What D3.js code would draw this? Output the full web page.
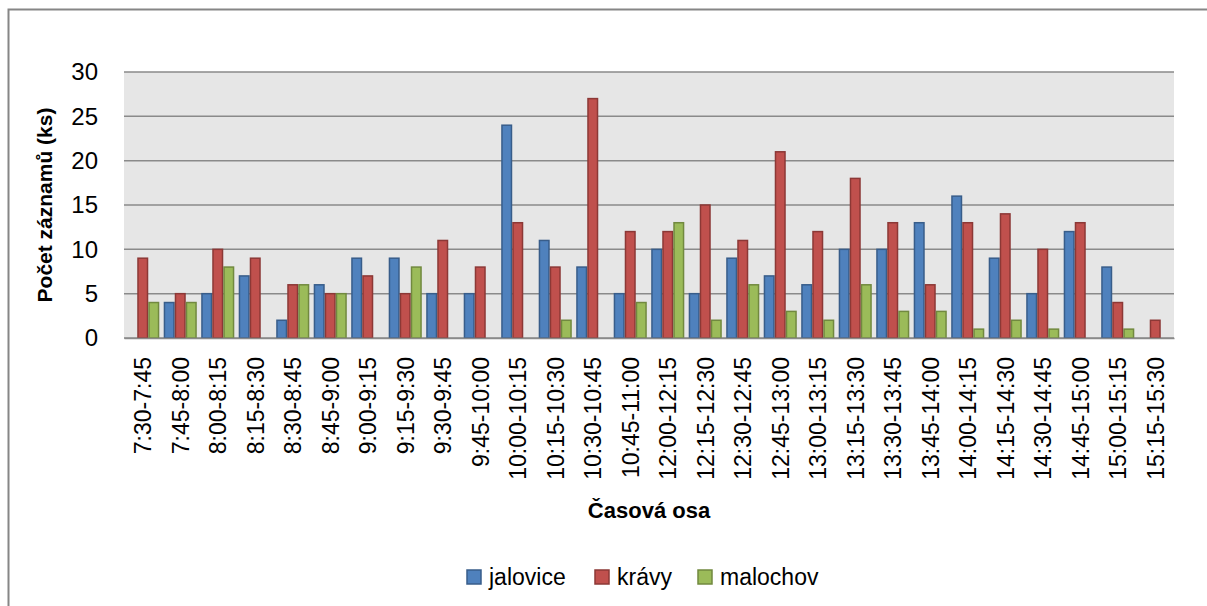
<!DOCTYPE html>
<html>
<head>
<meta charset="utf-8">
<script src="https://cdn.jsdelivr.net/npm/d3@7"></script>
<style>
  html, body { margin: 0; padding: 0; background: #fff; }
  svg { display: block; font-family: "Liberation Sans", Arial, sans-serif; }
</style>
</head>
<body>
<svg id="chart" width="1207" height="606"></svg>
<script>
// Time slots (15-minute intervals)
const categories = [
  "7:30-7:45", "7:45-8:00", "8:00-8:15", "8:15-8:30", "8:30-8:45", "8:45-9:00",
  "9:00-9:15", "9:15-9:30", "9:30-9:45", "9:45-10:00", "10:00-10:15", "10:15-10:30",
  "10:30-10:45", "10:45-11:00", "12:00-12:15", "12:15-12:30", "12:30-12:45", "12:45-13:00",
  "13:00-13:15", "13:15-13:30", "13:30-13:45", "13:45-14:00", "14:00-14:15", "14:15-14:30",
  "14:30-14:45", "14:45-15:00", "15:00-15:15", "15:15-15:30"
];

// Record counts per group
const jalovice = [0, 4, 5, 7, 2, 6, 9, 9, 5, 5, 24, 11, 8, 5, 10, 5, 9, 7, 6, 10, 10, 13, 16, 9, 5, 12, 8, 0];
const kravy    = [9, 5, 10, 9, 6, 5, 7, 5, 11, 8, 13, 8, 27, 12, 12, 15, 11, 21, 12, 18, 13, 6, 13, 14, 10, 13, 4, 2];
const malochov = [4, 4, 8, 0, 6, 5, 0, 8, 0, 0, 0, 2, 0, 4, 13, 2, 6, 3, 2, 6, 3, 3, 1, 2, 1, 0, 1, 0];

const seriesNames = ["jalovice", "krávy", "malochov"];
const yTicks = [0, 5, 10, 15, 20, 25, 30];

const series = [
  { name: seriesNames[0], values: jalovice, fill: "#4f81bd", stroke: "#385d8a" },
  { name: seriesNames[1], values: kravy,    fill: "#c0504d", stroke: "#8c3836" },
  { name: seriesNames[2], values: malochov, fill: "#9bbb59", stroke: "#71893f" }
];

const svg = d3.select("#chart");
const plot = { left: 124, right: 1174, top: 72, bottom: 338 };

// Chart frame
svg.append("rect")
  .attr("x", 8.5).attr("y", 9.5)
  .attr("width", 1300).attr("height", 700)
  .attr("fill", "#fff").attr("stroke", "#868686").attr("stroke-width", 2);

const x = d3.scaleBand().domain(categories).range([plot.left, plot.right]).paddingInner(0).paddingOuter(0);
const xInner = d3.scaleBand().domain(seriesNames).range([0, x.bandwidth()]).paddingOuter(0.2).paddingInner(0);
const y = d3.scaleLinear().domain([0, 30]).range([plot.bottom, plot.top]);

// Plot area background
svg.append("rect")
  .attr("x", plot.left).attr("y", plot.top)
  .attr("width", plot.right - plot.left).attr("height", plot.bottom - plot.top)
  .attr("fill", "#e6e6e6");

// Horizontal gridlines
svg.append("g")
  .selectAll("line")
  .data(yTicks)
  .join("line")
  .attr("x1", plot.left).attr("x2", plot.right)
  .attr("y1", d => y(d)).attr("y2", d => y(d))
  .attr("stroke", "#8a8a8a").attr("stroke-width", 1.5);

// Y axis labels
const yAxis = svg.append("g")
  .attr("transform", `translate(${plot.left},0)`)
  .call(d3.axisLeft(y).tickValues(yTicks).tickSize(0).tickPadding(26));
yAxis.select(".domain").remove();
yAxis.selectAll("text")
  .attr("font-size", 24)
  .attr("font-family", "Liberation Sans, Arial, sans-serif")
  .attr("fill", "#000");

// Bars
const groups = svg.append("g")
  .selectAll("g")
  .data(series)
  .join("g");

groups.selectAll("rect")
  .data(s => s.values.map((v, i) => ({ v, cat: categories[i], s })))
  .join("rect")
  .filter(d => d.v > 0)
  .attr("x", d => x(d.cat) + xInner(d.s.name) + 0.75)
  .attr("width", xInner.bandwidth() - 1.5)
  .attr("y", d => y(d.v))
  .attr("height", d => y(0) - y(d.v))
  .attr("fill", d => d.s.fill)
  .attr("stroke", d => d.s.stroke)
  .attr("stroke-width", 1.5);

// X axis
const xAxis = svg.append("g")
  .attr("transform", `translate(0,${plot.bottom})`)
  .call(d3.axisBottom(x).tickSize(0).tickPadding(0));
xAxis.select(".domain")
  .attr("stroke", "#8a8a8a").attr("stroke-width", 1.5);
xAxis.selectAll("text")
  .attr("font-size", 23)
  .attr("font-family", "Liberation Sans, Arial, sans-serif")
  .attr("fill", "#000")
  .attr("text-anchor", "end")
  .attr("dy", null)
  .attr("transform", "translate(8.5,19) rotate(-90)");

// Axis titles
svg.append("text")
  .attr("transform", `translate(52,${(plot.top + plot.bottom) / 2}) rotate(-90)`)
  .attr("text-anchor", "middle")
  .attr("font-size", 21).attr("font-weight", "bold")
  .text("Počet záznamů (ks)");

svg.append("text")
  .attr("x", (plot.left + plot.right) / 2).attr("y", 518)
  .attr("text-anchor", "middle")
  .attr("font-size", 22).attr("font-weight", "bold")
  .text("Časová osa");

// Legend
const legendX = [467, 595, 698];
const legend = svg.append("g")
  .selectAll("g")
  .data(series)
  .join("g")
  .attr("transform", (d, i) => `translate(${legendX[i]},570)`);
legend.append("rect")
  .attr("width", 14).attr("height", 14)
  .attr("fill", d => d.fill).attr("stroke", d => d.stroke).attr("stroke-width", 1.5);
legend.append("text")
  .attr("x", 22).attr("y", 15)
  .attr("font-size", 23)
  .text(d => d.name);
</script>
</body>
</html>
